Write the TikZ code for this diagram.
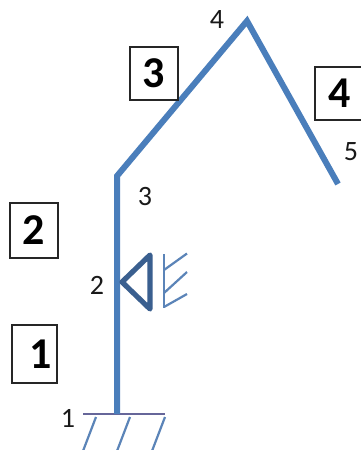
\documentclass[tikz,border=0pt]{standalone}
\usepackage{fontspec}
\setmainfont{Carlito}
\definecolor{beam}{HTML}{4A7EBB}
\definecolor{tri}{HTML}{3A5F8F}
\definecolor{hatch}{HTML}{5B84B8}
\tikzset{
  beamline/.style={draw=beam,line width=6pt},
  hatchline/.style={draw=hatch,line width=2.2pt},
  boxlabel/.style={draw=black!85,line width=1.3pt,fill=none,font=\fontsize{44}{44}\bfseries\selectfont,inner sep=0pt,anchor=center},
  numlabel/.style={font=\fontsize{28}{28}\selectfont,inner sep=0pt,text=black!90}
}
\begin{document}
\begin{tikzpicture}[x=1pt,y=-1pt]
\useasboundingbox[clip] (0,0) rectangle (361,450);
\fill[white] (0,0) rectangle (361,450);
% frame
\coordinate (base) at (117,414);
\coordinate (knee) at (117,176);
\coordinate (apex) at (247,21);
\coordinate (tip) at (338,184);
% ground
\coordinate (gl) at (83,413.5);
\coordinate (gr) at (165,413.5);
\draw[draw=gray!80!blue,line width=2pt] (gl) -- (gr);
\foreach \n/\x in {a/96,b/130,c/165}{
  \coordinate (g\n1) at (\x,417);
  \coordinate (g\n2) at (\x-13,451);
  \draw[hatchline] (g\n1) -- (g\n2);
}
\draw[beamline,line join=miter] (base) -- (knee) -- (apex) -- (tip);
% roller support
\coordinate (ta) at (122,282);
\coordinate (tt) at (150,255);
\coordinate (tb) at (150,309);
\draw[draw=tri,line width=5.2pt,line join=round] (ta) -- (tt) -- (tb) -- cycle;
% wall
\coordinate (w1) at (164,254);
\coordinate (w2) at (164,308);
\draw[hatchline] (w1) -- (w2);
\coordinate (h1a) at (164,270);\coordinate (h1b) at (187,253.5);
\coordinate (h2a) at (164,293);\coordinate (h2b) at (187,272);
\coordinate (h3a) at (164,307);\coordinate (h3b) at (187,294);
\draw[hatchline] (h1a) -- (h1b);
\draw[hatchline] (h2a) -- (h2b);
\draw[hatchline] (h3a) -- (h3b);
% element labels
\node[boxlabel,minimum width=48pt,minimum height=55pt] (box2) at (34,230.5) {2};
\node[boxlabel,minimum width=45pt,minimum height=58pt] (box1) at (34.5,354) {\hspace*{12pt}1};
\node[boxlabel,minimum width=48pt,minimum height=53pt] (box3) at (154,73.5) {3};
\node[boxlabel,minimum width=50pt,minimum height=53pt] (box4) at (340,93.5) {4};
% node labels
\node[numlabel] (n1) at (68,418) {1};
\node[numlabel] (n2) at (97,285) {2};
\node[numlabel] (n3) at (145,197) {3};
\node[numlabel] (n4) at (217,20) {4};
\node[numlabel] (n5) at (351,152) {5};
\end{tikzpicture}
\end{document}
